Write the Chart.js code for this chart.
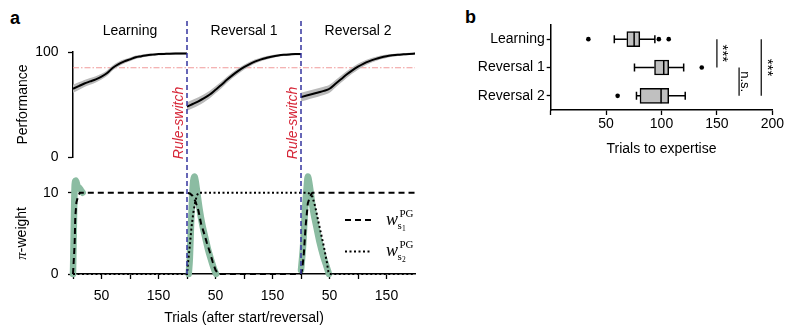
<!DOCTYPE html>
<html>
<head>
<meta charset="utf-8">
<script src="https://cdn.jsdelivr.net/npm/chart.js@4.4.1/dist/chart.umd.min.js"></script>
<style>
body{margin:0;background:#fff;width:785px;height:328px;overflow:hidden;position:relative;font-family:"Liberation Sans",Arial,sans-serif}
canvas{position:absolute}
.lbl{position:absolute;font-weight:bold;font-size:18px;line-height:18px}
</style>
</head>
<body>
<div class="lbl" style="left:10px;top:9px">a</div>
<div class="lbl" style="left:465px;top:8px">b</div>
<canvas id="perf" width="430" height="165" style="left:0;top:0"></canvas>
<canvas id="pi" width="430" height="163" style="left:0;top:165px"></canvas>
<canvas id="box" width="325" height="165" style="left:460px;top:0"></canvas>
<script>
// ---- panel a data ----
var phaseNames = ['Learning', 'Reversal 1', 'Reversal 2'];
var phaseLen = 200;
var trials = [0,10,20,30,40,50,60,70,80,90,100,110,120,130,140,150,160,170,180,190,200];
var perfLearning = [65,67.5,70,72,74,76.5,80,85,88.5,91,93,95,96,97,97.5,98,98.2,98.4,98.5,98.5,98.6];
var perfRev1 = [48,50.5,53,56,59.5,64,68.5,73.5,78,82,85.5,88.5,91,93,94.5,95.8,96.7,97.3,97.7,98,98];
var perfRev2 = [57,58.5,60,61.5,63,65,69.5,74,78.5,82.5,86,89,91.3,93.2,94.8,96,96.8,97.4,97.8,98.2,98.5];
var semLearning = [3.8,3.6,3.4,3.2,3,2.8,2.6,2.4,2.2,2,1.8,1.6,1.4,1.3,1.2,1.1,1,1,1,1,1];
var semRev1 = [4,4,3.9,3.8,3.6,3.4,3.2,3,2.8,2.6,2.4,2.2,2,1.8,1.6,1.4,1.2,1.1,1,1,1];
var semRev2 = [4.2,4.2,4.1,4,3.9,3.8,3.6,3.4,3.2,3,2.8,2.5,2.2,2,1.8,1.6,1.4,1.2,1.1,1,1];
var expertLevel = 85;
var switchTrials = [200, 400];

// pi-weights (x = trials counted from start of learning)
var ws1X = [0,2,3,4,6,9,12,200,205,210,215,220,225,230,235,240,245,250,255,400,402,405,408,412,416,420,600];
var ws1Y = [0,2.5,4,7,8.8,9.6,10,10,9.9,9.6,8.9,7.8,6.1,5,3.8,2.7,1.5,0.5,0,0,0.5,2.5,5.8,8.7,9.6,10,10];
var ws2X = [0,200,202,205,208,211,214,217,220,400,410,415,420,425,430,435,440,445,448,450,600];
var ws2Y = [0,0,1.5,3.5,5.8,7.5,8.7,9.6,10,10,10,9.9,9.5,8.3,6.6,5,3.4,1.6,0.3,0,0];
var greenLearnX = [0,1,2,3,5,8,11,14,17];
var greenLearnY = [0,4,8,11,11.5,10.8,10.6,10.3,10];
var greenRev1X = [203,205,207,209,211,213,215,218,222,227,232,237,242,247,251];
var greenRev1Y = [0,2,6,9.5,11.5,12,11.5,10,8,6,4.5,3,1.8,0.7,0];
var greenRev2X = [400,402,404,407,410,412,415,421,427,433,439,445,449];
var greenRev2Y = [0.5,2,3.8,7.9,10.7,12,11,7.9,5.8,3.8,2.2,0.9,0];

// ---- panel b data ----
var boxLabels = ['Learning', 'Reversal 1', 'Reversal 2'];
var boxQ1 = [68.7, 93.7, 80.6];
var boxMedian = [75.3, 102, 99.6];
var boxQ3 = [80.4, 106.5, 106.5];
var whiskerLo = [57.4, 75.6, 77.4];
var whiskerHi = [94, 120, 121.4];
var outliers = [[34, 97.6, 106.5], [136.3], [60.4]];
var sigFrom = [0, 1, 0];
var sigTo = [1, 2, 2];
var sigAt = [150, 170, 190];
var sigText = ['***', 'n.s.', '***'];

Chart.defaults.font.family = '"Liberation Sans", Arial, sans-serif';
Chart.defaults.font.size = 14;
Chart.defaults.color = '#000';
Chart.defaults.animation = false;
Chart.defaults.plugins.legend.display = false;
Chart.defaults.plugins.tooltip.enabled = false;

var BLUE = '#34349e';
var GREEN = '#8bbca2';

function pts(xs, ys) {
	return xs.map(function(x, i){ return {x: x, y: ys[i]}; });
}

function axisStyle(tl) {
	return {drawOnChartArea: false, drawTicks: true, tickLength: tl, tickColor: '#000', tickWidth: 1.3};
}

// keep tick labels from shrinking the plot area
function fixWidth(w) {
	return function(s){ s.width = w; s.paddingTop = 0; s.paddingBottom = 0; };
}

// ---------- top: performance ----------
var perfSets = [];
var perfAll = [perfLearning, perfRev1, perfRev2];
var semAll = [semLearning, semRev1, semRev2];
perfAll.forEach(function(p, k){
	var off = k * phaseLen;
	var xs = trials.map(function(t){ return t + off; });
	var hi = p.map(function(v, i){ return v + semAll[k][i]; });
	var lo = p.map(function(v, i){ return v - semAll[k][i]; });
	perfSets.push({data: pts(xs, hi), borderWidth: 0, pointRadius: 0, backgroundColor: '#bababa', fill: '+1', cubicInterpolationMode: 'monotone', order: 3, clip: false});
	perfSets.push({data: pts(xs, lo), borderWidth: 0, pointRadius: 0, fill: false, cubicInterpolationMode: 'monotone', order: 3, clip: false});
});
perfAll.forEach(function(p, k){
	var xs = trials.map(function(t){ return t + k * phaseLen; });
	perfSets.push({data: pts(xs, p), borderColor: '#000', borderWidth: 2, pointRadius: 0, fill: false, cubicInterpolationMode: 'monotone', order: 1, clip: false});
});
perfSets.push({data: [{x: 0, y: expertLevel}, {x: 3 * phaseLen, y: expertLevel}], borderColor: '#f09a9a', borderWidth: 1, borderDash: [6, 2, 1.5, 2], pointRadius: 0, fill: false, order: 4});

var perfDecor = {
	id: 'perfDecor',
	afterDatasetsDraw: function(chart){
		var ctx = chart.ctx, xs = chart.scales.x;
		ctx.save();
		ctx.strokeStyle = BLUE; ctx.lineWidth = 1.5; ctx.setLineDash([5, 3]);
		switchTrials.forEach(function(t){
			var px = xs.getPixelForValue(t);
			ctx.beginPath(); ctx.moveTo(px, 21); ctx.lineTo(px, chart.height); ctx.stroke();
		});
		ctx.setLineDash([]);
		ctx.fillStyle = '#000'; ctx.font = '14px "Liberation Sans", Arial'; ctx.textAlign = 'center'; ctx.textBaseline = 'alphabetic';
		phaseNames.forEach(function(n, k){
			ctx.fillText(n, xs.getPixelForValue(k * phaseLen + phaseLen / 2), 35);
		});
		ctx.fillStyle = '#d62839'; ctx.font = 'italic 14px "Liberation Sans", Arial';
		switchTrials.forEach(function(t){
			var px = xs.getPixelForValue(t);
			ctx.save(); ctx.translate(px - 4, 123); ctx.rotate(-Math.PI / 2);
			ctx.fillText('Rule-switch', 0, 0); ctx.restore();
		});
		ctx.restore();
	}
};

new Chart(document.getElementById('perf'), {
	type: 'line',
	data: {datasets: perfSets},
	options: {
		responsive: false,
		layout: {padding: {top: 52, right: 15, bottom: 8, left: 0}},
		scales: {
			x: {type: 'linear', min: 0, max: 3 * phaseLen, display: false},
			y: {
				min: 0, max: 100,
				ticks: {stepSize: 100, padding: 9.5},
				grid: axisStyle(5),
				border: {color: '#000', width: 1.5},
				title: {display: true, text: 'Performance', font: {size: 14}, padding: {top: 14.6, bottom: 0}},
				afterFit: fixWidth(73)
			}
		}
	},
	plugins: [perfDecor]
});

// ---------- bottom: pi-weights ----------
var piSets = [
	{data: pts(ws1X, ws1Y), borderColor: '#000', borderWidth: 2, borderDash: [6, 4], pointRadius: 0, tension: 0, fill: false, order: 1, clip: false},
	{data: pts(ws2X, ws2Y), borderColor: '#000', borderWidth: 2, borderDash: [2, 2.5], pointRadius: 0, tension: 0, fill: false, order: 2, clip: false}
];
[[greenLearnX, greenLearnY], [greenRev1X, greenRev1Y], [greenRev2X, greenRev2Y]].forEach(function(g){
	piSets.push({data: pts(g[0], g[1]), borderColor: GREEN, borderWidth: 6.5, borderCapStyle: 'round', borderJoinStyle: 'round', pointRadius: 0, cubicInterpolationMode: 'monotone', fill: false, order: 3, clip: false});
});

function drawW(ctx, x, y, sub){
	ctx.font = 'italic 18px "Liberation Serif", serif';
	ctx.fillText('w', x, y);
	var w = ctx.measureText('w').width;
	ctx.font = '11px "Liberation Serif", serif';
	ctx.fillText('PG', x + w + 1.5, y - 8.5);
	ctx.fillText('s', x + w - 0.5, y + 3.5);
	var sw = ctx.measureText('s').width;
	ctx.font = '7.5px "Liberation Serif", serif';
	ctx.fillText(sub, x + w - 0.3 + sw, y + 5.5);
}

var piDecor = {
	id: 'piDecor',
	afterDatasetsDraw: function(chart){
		var ctx = chart.ctx, xs = chart.scales.x, a = chart.chartArea;
		ctx.save();
		ctx.strokeStyle = BLUE; ctx.lineWidth = 1.5; ctx.setLineDash([5, 3]);
		switchTrials.forEach(function(t){
			var px = xs.getPixelForValue(t);
			ctx.beginPath(); ctx.moveTo(px, 0); ctx.lineTo(px, a.bottom); ctx.stroke();
		});
		// legend
		ctx.strokeStyle = '#000'; ctx.lineWidth = 2;
		ctx.setLineDash([6, 4]);
		ctx.beginPath(); ctx.moveTo(345, 55); ctx.lineTo(372, 55); ctx.stroke();
		ctx.setLineDash([2, 2.5]);
		ctx.beginPath(); ctx.moveTo(345, 86.5); ctx.lineTo(372, 86.5); ctx.stroke();
		ctx.setLineDash([]);
		ctx.fillStyle = '#000'; ctx.textAlign = 'left'; ctx.textBaseline = 'alphabetic';
		drawW(ctx, 386, 60, '1');
		drawW(ctx, 386, 91, '2');
		// y title: pi-weight
		ctx.save();
		ctx.translate(22.5, (a.top + a.bottom) / 2);
		ctx.rotate(-Math.PI / 2);
		ctx.textBaseline = 'middle';
		ctx.font = 'italic 15px "Liberation Serif", serif';
		var w1 = ctx.measureText('\u03c0').width;
		ctx.font = '14px "Liberation Sans", Arial';
		var w2 = ctx.measureText('-weight').width;
		var x0 = -(w1 + w2) / 2;
		ctx.font = 'italic 15px "Liberation Serif", serif';
		ctx.fillText('\u03c0', x0, 0);
		ctx.font = '14px "Liberation Sans", Arial';
		ctx.fillText('-weight', x0 + w1, 0);
		ctx.restore();
		ctx.restore();
	}
};

new Chart(document.getElementById('pi'), {
	type: 'line',
	data: {datasets: piSets},
	options: {
		responsive: false,
		layout: {padding: {top: 27.7, right: 15, bottom: 0, left: 0}},
		scales: {
			x: {
				type: 'linear', min: 0, max: 3 * phaseLen,
				afterBuildTicks: function(s){ s.ticks = s.ticks.filter(function(t){ return t.value < 3 * phaseLen; }); },
				ticks: {stepSize: 50, padding: 9, maxRotation: 0, autoSkip: false,
					callback: function(v){ var r = v % phaseLen; return (r === 50 || r === 150) ? String(r) : ''; }},
				grid: axisStyle(5),
				border: {color: '#000', width: 1.5},
				title: {display: true, text: 'Trials (after start/reversal)', font: {size: 14}, padding: {top: 0, bottom: 1.6}},
				afterFit: function(s){ s.height = 54; }
			},
			y: {
				min: 0, max: 10,
				ticks: {stepSize: 10, padding: 9.5},
				grid: axisStyle(5),
				border: {color: '#000', width: 1.5},
				afterFit: fixWidth(73)
			}
		}
	},
	plugins: [piDecor]
});

// ---------- panel b: trials to expertise ----------
var outlierPts = [];
outliers.forEach(function(list, i){
	list.forEach(function(v){ outlierPts.push({x: v, y: boxLabels[i]}); });
});

var boxExtras = {
	id: 'boxExtras',
	afterDatasetsDraw: function(chart){
		var ctx = chart.ctx, xs = chart.scales.x, ys = chart.scales.y;
		ctx.save();
		ctx.strokeStyle = '#000'; ctx.lineWidth = 1.5;
		boxLabels.forEach(function(lab, i){
			var y = ys.getPixelForValue(i);
			var lo = xs.getPixelForValue(whiskerLo[i]), hi = xs.getPixelForValue(whiskerHi[i]);
			var q1 = xs.getPixelForValue(boxQ1[i]), q3 = xs.getPixelForValue(boxQ3[i]);
			var md = xs.getPixelForValue(boxMedian[i]);
			ctx.beginPath();
			ctx.moveTo(lo, y); ctx.lineTo(q1, y);
			ctx.moveTo(q3, y); ctx.lineTo(hi, y);
			ctx.moveTo(lo, y - 4); ctx.lineTo(lo, y + 4);
			ctx.moveTo(hi, y - 4); ctx.lineTo(hi, y + 4);
			ctx.moveTo(md, y - 7.5); ctx.lineTo(md, y + 7.5);
			ctx.stroke();
		});
		ctx.lineWidth = 1.2;
		ctx.fillStyle = '#000';
		ctx.textAlign = 'center'; ctx.textBaseline = 'alphabetic';
		sigAt.forEach(function(v, k){
			var x = xs.getPixelForValue(v);
			var y1 = ys.getPixelForValue(sigFrom[k]), y2 = ys.getPixelForValue(sigTo[k]);
			ctx.beginPath(); ctx.moveTo(x, y1); ctx.lineTo(x, y2); ctx.stroke();
			var star = sigText[k] === '***';
			ctx.font = (star ? '15px' : '13px') + ' "Liberation Sans", Arial';
			ctx.save(); ctx.translate(x + 1.5, (y1 + y2) / 2); ctx.rotate(Math.PI / 2);
			ctx.fillText(sigText[k], 0, 0); ctx.restore();
		});
		ctx.restore();
	}
};

new Chart(document.getElementById('box'), {
	type: 'bar',
	data: {
		labels: boxLabels,
		datasets: [
			{type: 'scatter', data: outlierPts, pointRadius: 2.3, pointBackgroundColor: '#000', pointBorderWidth: 0, order: 0},
			{data: boxQ1.map(function(q, i){ return [q, boxQ3[i]]; }), backgroundColor: '#c0c0c0', borderColor: '#000', borderWidth: 1.5, borderSkipped: false, barThickness: 15, order: 1}
		]
	},
	options: {
		responsive: false,
		indexAxis: 'y',
		layout: {padding: {top: 25, right: 10.7, bottom: 0, left: 0}},
		scales: {
			x: {
				type: 'linear', min: 0, max: 200,
				ticks: {stepSize: 50, padding: 1, callback: function(v){ return v === 0 ? '' : String(v); }},
				grid: axisStyle(5),
				border: {color: '#000', width: 1.5},
				title: {display: true, text: 'Trials to expertise', font: {size: 14}, padding: {top: 0, bottom: 7.6}},
				afterFit: function(s){ s.height = 55; }
			},
			y: {
				type: 'category', offset: true,
				ticks: {padding: 2},
				grid: {drawOnChartArea: false, drawTicks: true, tickLength: 4, tickColor: '#000', tickWidth: 1.3, offset: false},
				border: {color: '#000', width: 1.5},
				afterFit: fixWidth(90.7)
			}
		}
	},
	plugins: [boxExtras]
});
</script>
</body>
</html>
